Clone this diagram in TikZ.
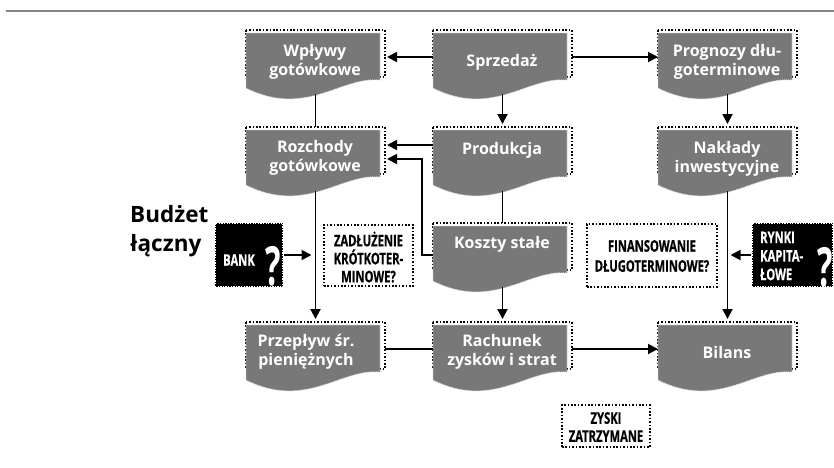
\documentclass[tikz,border=0pt]{standalone}
\usepackage{fontspec}
\setmainfont{Open Sans}
\newfontfamily\labelfont{Open Sans}[FakeStretch=0.7, FakeBold=0.6]
\newfontfamily\qfont{Open Sans}[FakeStretch=0.6]
\usetikzlibrary{arrows.meta}
\definecolor{docgray}{HTML}{787878}
\definecolor{rulegray}{HTML}{858585}

\tikzset{
  docframe/.style={draw=black, line width=1.6pt, dash pattern=on 1.6pt off 1.8pt},
  docbody/.style={fill=docgray, draw=white!70!docgray, line width=0.8pt, dash pattern=on 1pt off 1pt},
  docarea/.style={minimum width=139pt, minimum height=54pt, inner sep=0pt, outer sep=0pt},
  doctext/.style={text=white, font=\bfseries\fontsize{16}{19}\selectfont, align=center, inner sep=0pt},
  conn/.style={line width=1.9pt},
  arr/.style={conn, -{Triangle[length=10pt,width=10pt]}},
  notebox/.style={draw=black, fill=white, line width=1.6pt, dash pattern=on 1.6pt off 1.8pt, inner sep=0pt},
  notetext/.style={font=\labelfont\bfseries\fontsize{16}{18}\selectfont, align=center, inner sep=0pt},
  stampbox/.style={fill=black, draw=white, line width=1.3pt, dash pattern=on 1.3pt off 1.3pt, inner sep=0pt},
  stamptext/.style={text=white, font=\labelfont\bfseries\fontsize{16}{18.5}\selectfont, inner sep=0pt},
  qmark/.style={text=white, font=\qfont\bfseries\fontsize{54}{54}\selectfont, inner sep=0pt},
}

% document-shaped box: [text options]{name}{left x}{top y}{text offset}{text}
\newcommand\docbox[6][]{%
  \draw[docframe] (#3,#4) rectangle ++(139,47);
  \path[docbody] (#3,#4+3) -- (#3+134,#4+3) -- (#3+134,#4+50)
     .. controls (#3+95,#4+46) and (#3+60,#4+88) .. (#3,#4+58) -- cycle;
  \node[docarea] (#2) at (#3+69.5,#4+27) {};
  \node[doctext,#1] (#2-t) at (#3+69,#4+#5) {#6};
  \coordinate (#2-foot) at (#3+69.5,#4+64);
}

\begin{document}
\begin{tikzpicture}[x=1pt, y=-1pt]
\useasboundingbox (0,0) rectangle (834,467);
\fill[white] (0,0) rectangle (834,467);
\draw[rulegray, line width=2.4pt] (6,11) -- (834,11);

% title
\node[anchor=west, align=left, font=\bfseries\fontsize{22.5}{29}\selectfont, inner sep=0pt] (title) at (130,231) {Budżet\\łączny};

% document boxes
\docbox{wp}{246}{30}{32}{Wpływy\\gotówkowe}
\docbox{sp}{433}{30}{32}{Sprzedaż}
\docbox{pg}{658}{30}{32}{Prognozy dłu-\\goterminowe}
\docbox{rz}{246}{127}{31}{Rozchody\\gotówkowe}
\docbox{pd}{433}{127}{23}{Produkcja}
\docbox{nk}{658}{127}{32}{Nakłady\\inwestycyjne}
\docbox{ks}{433}{223}{21}{Koszty stałe}
\docbox[xshift=-9pt]{pp}{246}{322}{30}{Przepływ śr.\\pieniężnych}
\docbox{rr}{433}{322}{30}{Rachunek\\zysków i strat}
\docbox{bl}{658}{322}{30}{Bilans}

% black source boxes
\node[stampbox, minimum width=68pt, minimum height=64pt] (bank) at (249,255) {};
\node[stamptext] (bank-l) at (239,260) {BANK};
\node[qmark, anchor=base] (bank-q) at (273.5,285) {?};

\node[stampbox, minimum width=81pt, minimum height=64pt] (rynki) at (792.5,255) {};
\node[stamptext, anchor=west, align=left] (rynki-l) at (760,256) {RYNKI\\KAPITA-\\ŁOWE};
\node[qmark, anchor=base] (rynki-q) at (825,286) {?};

% dotted notes
\node[notebox, minimum width=89pt, minimum height=61pt] (zad) at (368.5,255.5) {};
\node[notetext] (zad-t) at (368.5,257) {ZADŁUŻENIE\\KRÓTKOTER-\\MINOWE?};
\node[notebox, minimum width=130pt, minimum height=63pt] (fin) at (652,255.5) {};
\node[notetext, font=\labelfont\bfseries\fontsize{16}{20}\selectfont] (fin-t) at (652,256) {FINANSOWANIE\\DŁUGOTERMINOWE?};
\node[notebox, minimum width=88pt, minimum height=42pt] (zys) at (606,426) {};
\node[notetext] (zys-t) at (606,427) {ZYSKI\\ZATRZYMANE};

% connectors
\draw[arr, shorten >=2pt] (sp.west) -- (wp.east);
\draw[arr] (sp.east) -- (pg.west);
\draw[arr, shorten >=3pt] (sp-foot) -- (pd.north);
\draw[arr, shorten >=3pt] (pg-foot) -- (nk.north);
\draw[conn] (wp-foot) -- (rz.north);
\draw[arr, shorten >=2pt] ([yshift=9pt]pd.west) -- ([yshift=9pt]rz.east);
\draw[arr, shorten >=2pt] ([yshift=-5pt]ks.west) -- ++(-11,0) |- ([yshift=-5pt]rz.east);
\draw[conn] (pd-foot) -- (ks.north);
\draw[arr, shorten >=3pt] (ks-foot) -- (rr.north);
\draw[arr, shorten >=3pt] (rz-foot) -- (pp.north);
\draw[arr, shorten >=3pt] (nk-foot) -- (bl.north);
\draw[conn] (pp.east) -- (rr.west);
\draw[arr] (rr.east) -- (bl.west);
\draw[arr, shorten >=4pt] (bank.east) -- (bank.east -| pp.north);
\draw[arr, shorten >=3pt] (rynki.west) -- (rynki.west -| bl.north);
\end{tikzpicture}
\end{document}
